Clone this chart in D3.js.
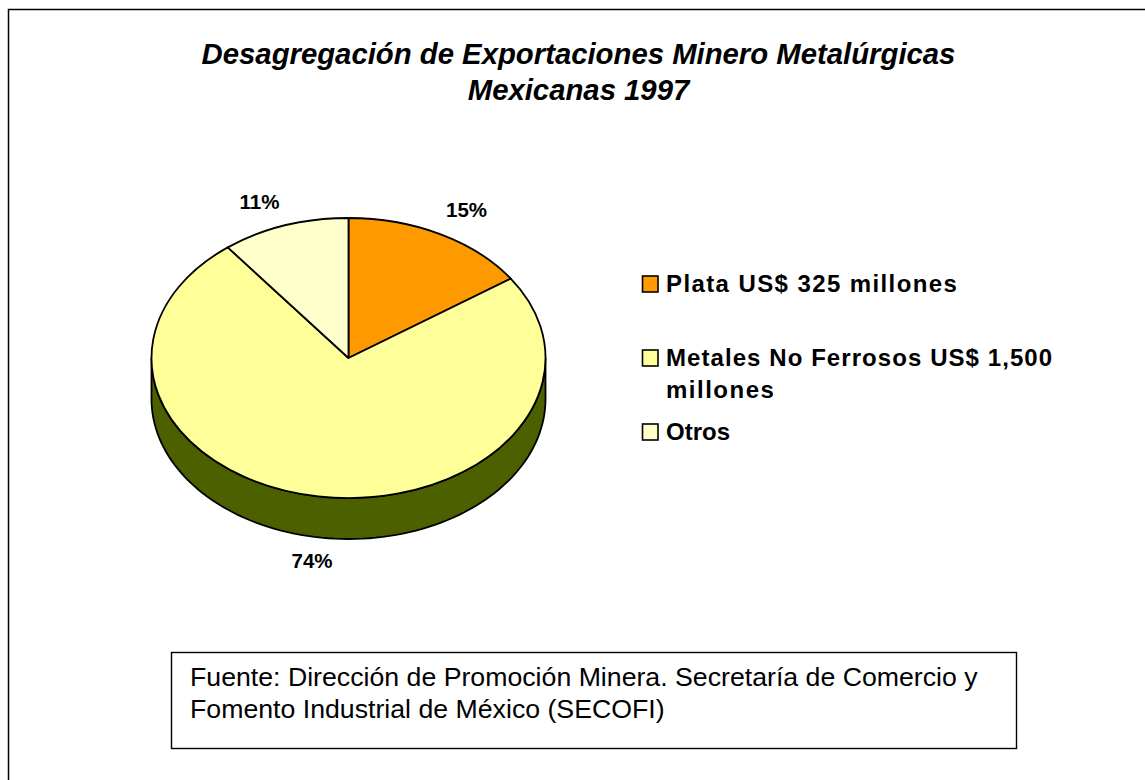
<!DOCTYPE html>
<html><head><meta charset="utf-8">
<script src="https://cdn.jsdelivr.net/npm/d3@7"></script>
<style>html,body{margin:0;padding:0;background:#fff}svg{display:block}text{font-family:"Liberation Sans",Arial,sans-serif;fill:#000}</style>
</head><body><svg id="c" width="1145" height="780"></svg>
<script>
const titleLines = ["Desagregación de Exportaciones Minero Metalúrgicas","Mexicanas 1997"];
const categories = ["Plata US$ 325 millones","Metales No Ferrosos US$ 1,500 millones","Otros"];
const legendLines = [["Plata US$ 325 millones"],["Metales No Ferrosos US$ 1,500","millones"],["Otros"]];
const shares = [15.4,74.1,10.5];
const sliceColors = ["#FF9900","#FFFF99","#FFFFCC"];
const sideColor = "#4D6000";
const labels = ["15%","74%","11%"];
const sourceLines = ["Fuente: Dirección de Promoción Minera. Secretaría de Comercio y","Fomento Industrial de México (SECOFI)"];

const svg = d3.select("#c");
svg.append("path").attr("d","M8.5,780V9.5H1145").attr("fill","none").attr("stroke","#000").attr("stroke-width",1.5);

const title = svg.append("text").attr("text-anchor","middle").attr("font-size",29.3).attr("font-weight","bold").attr("font-style","italic");
titleLines.forEach((t,i)=>title.append("tspan").attr("x",578.5).attr("y",64+i*36).text(t));

const cx=348.5, cy=358, rx=197, ry=140, depth=41;
const pie = d3.pie().value(d=>d).sort(null).startAngle(0).endAngle(2*Math.PI);
const arcs = pie(shares);
const arc = d3.arc().innerRadius(0).outerRadius(rx);
const g = svg.append("g").attr("transform",`translate(${cx},${cy})`);

const sideAngles = d3.range(Math.PI/2, 3*Math.PI/2+1e-6, Math.PI/90);
const area = d3.area().x(a=>rx*Math.sin(a)).y0(a=>-ry*Math.cos(a)).y1(a=>-ry*Math.cos(a)+depth);
g.append("path").datum(sideAngles).attr("d",area).attr("fill",sideColor).attr("stroke","#000").attr("stroke-width",1.8);

const face = g.append("g").attr("transform",`scale(1,${ry/rx})`);
face.selectAll("path").data(arcs).join("path").attr("d",arc)
  .attr("fill",(d,i)=>sliceColors[i]).attr("stroke","#000").attr("stroke-width",1.8)
  .attr("vector-effect","non-scaling-stroke").attr("stroke-linejoin","round");

const labelPos = d3.scaleOrdinal().domain(labels).range([[466.5,217],[312,568],[259.5,209]]);
svg.selectAll("text.pct").data(labels).join("text").attr("class","pct")
  .attr("text-anchor","middle").attr("font-size",20.5).attr("font-weight","bold")
  .attr("x",d=>labelPos(d)[0]).attr("y",d=>labelPos(d)[1]).text(d=>d);

const legendY = [292,366,440];
const legendTracking = [[1.4],[1.07,1.5],[0]];
const lg = svg.selectAll("g.leg").data(categories).join("g").attr("class","leg");
lg.append("rect").attr("x",642.5).attr("y",(d,i)=>legendY[i]-16).attr("width",15.5).attr("height",16)
  .attr("fill",(d,i)=>sliceColors[i]).attr("stroke","#000").attr("stroke-width",1.6);
lg.each(function(d,i){
  const t=d3.select(this).append("text").attr("font-size",24).attr("font-weight","bold");
  legendLines[i].forEach((l,j)=>t.append("tspan").attr("x",666).attr("y",legendY[i]+j*32)
    .attr("letter-spacing",legendTracking[i][j]).text(l));
});

svg.append("rect").attr("x",171.5).attr("y",652.5).attr("width",845).attr("height",96).attr("fill","#fff").attr("stroke","#000").attr("stroke-width",1.4);
const src = svg.append("text").attr("font-size",26.7);
sourceLines.forEach((l,i)=>src.append("tspan").attr("x",190).attr("y",686+i*32).text(l));
</script></body></html>
